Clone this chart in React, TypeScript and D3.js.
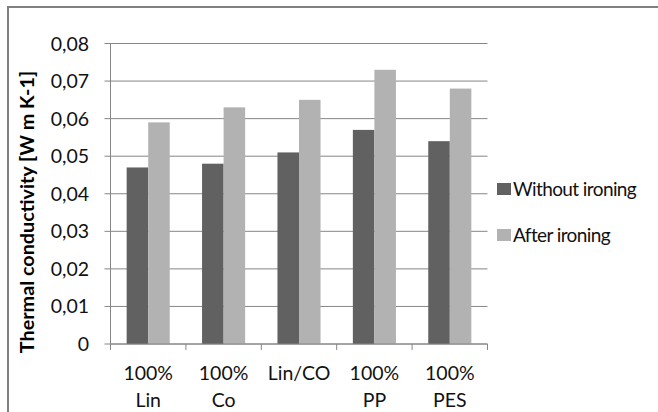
import React from "react";
import * as d3 from "d3";

// Fabric samples and their measured thermal conductivity
const categories: string[][] = [
  ["100%", "Lin"],
  ["100%", "Co"],
  ["Lin/CO"],
  ["100%", "PP"],
  ["100%", "PES"],
];
const seriesNames = ["Without ironing", "After ironing"];
const withoutIroning = [0.047, 0.048, 0.051, 0.057, 0.054];
const afterIroning = [0.059, 0.063, 0.065, 0.073, 0.068];
const yTicks = [0, 0.01, 0.02, 0.03, 0.04, 0.05, 0.06, 0.07, 0.08];
const seriesColors = ["#616161", "#b2b2b2"];

const W = 658;
const H = 412;
const plot = { left: 110.5, right: 487.5, top: 43.5, bottom: 344 };
const FONT = "Lato, 'Open Sans', sans-serif";

export default function App() {
  const x0 = d3
    .scaleBand<number>()
    .domain(d3.range(categories.length))
    .range([plot.left, plot.right])
    .paddingInner(0)
    .paddingOuter(0);
  const inner = d3
    .scaleBand<number>()
    .domain([0, 1])
    .range([0, x0.bandwidth()])
    .paddingOuter(0.75)
    .paddingInner(0);
  const y = d3.scaleLinear().domain([0, 0.08]).range([plot.bottom, plot.top]);
  const fmt = (v: number) => (v === 0 ? "0" : d3.format(".2f")(v).replace(".", ","));
  const series = [withoutIroning, afterIroning];
  const boundaries = d3.range(categories.length + 1).map((i) =>
    i < categories.length ? (x0(i) as number) : plot.right
  );

  return (
    <svg
      width={W}
      height={H}
      style={{ position: "absolute", left: 0, top: 0, background: "#fff" }}
      fontFamily={FONT}
    >
      {/* chart frame */}
      <rect x={8} y={7} width={W + 10} height={H + 10} fill="#fff" stroke="#808080" strokeWidth={2} />

      {/* horizontal gridlines and y ticks */}
      {yTicks.map((t) => (
        <g key={t}>
          <line x1={plot.left - 6} x2={plot.right} y1={y(t)} y2={y(t)} stroke="#868686" strokeWidth={1} />
          <text x={89} y={y(t) + 7} textAnchor="end" fontSize={19.5} fill="#111">
            {fmt(t)}
          </text>
        </g>
      ))}

      {/* bars */}
      {series.map((vals, si) =>
        vals.map((v, ci) => (
          <rect
            key={`${si}-${ci}`}
            x={(x0(ci) as number) + (inner(si) as number)}
            y={y(v)}
            width={inner.bandwidth()}
            height={y(0) - y(v)}
            fill={seriesColors[si]}
          />
        ))
      )}

      {/* axes */}
      <line x1={plot.left} x2={plot.left} y1={plot.top} y2={plot.bottom} stroke="#868686" />
      <line x1={plot.left} x2={plot.right} y1={plot.bottom} y2={plot.bottom} stroke="#868686" />
      {boundaries.map((bx, i) => (
        <line key={i} x1={bx} x2={bx} y1={plot.bottom} y2={plot.bottom + 6} stroke="#868686" />
      ))}

      {/* category labels */}
      {categories.map((lines, ci) => (
        <text
          key={ci}
          x={(x0(ci) as number) + x0.bandwidth() / 2}
          textAnchor="middle"
          fontSize={19.5}
          fill="#111"
        >
          {lines.map((ln, li) => (
            <tspan key={li} x={(x0(ci) as number) + x0.bandwidth() / 2} y={380 + li * 27}>
              {ln}
            </tspan>
          ))}
        </text>
      ))}

      {/* y axis title */}
      <text
        transform={`translate(34, 212) rotate(-90)`}
        textAnchor="middle"
        fontSize={19.8}
        fontWeight="bold"
        fill="#000"
      >
        Thermal conductivity [W m K-1]
      </text>

      {/* legend */}
      {seriesNames.map((name, i) => (
        <g key={name} transform={`translate(497, ${183 + i * 46})`}>
          <rect x={0} y={0} width={14} height={12} fill={seriesColors[i]} />
          <text x={16} y={12.5} fontSize={19} letterSpacing={-0.6} fill="#111">
            {name}
          </text>
        </g>
      ))}
    </svg>
  );
}
